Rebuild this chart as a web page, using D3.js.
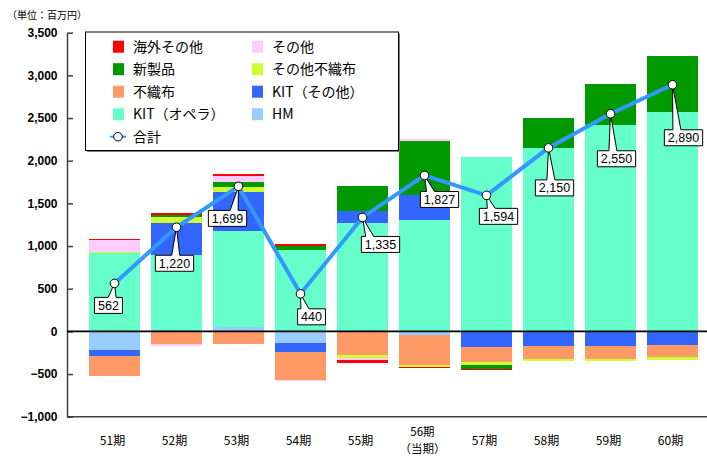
<!DOCTYPE html>
<html>
<head>
<meta charset="utf-8">
<script src="https://cdn.jsdelivr.net/npm/d3@7"></script>
<style>
  html, body { margin: 0; padding: 0; background: #fff; }
  svg { display: block; }
</style>
</head>
<body>
<svg id="chart" width="707" height="456"></svg>
<script>
// Fiscal periods (56期 is the current period)
const categories = ["51期", "52期", "53期", "54期", "55期", "56期", "57期", "58期", "59期", "60期"];
const categoryNotes = ["", "", "", "", "", "（当期）", "", "", "", ""];

// Segment results per period, 百万円
const hm          = [-222,   20,   52, -133,   12,  -47,     0,     0,     0,     0];
const kitOpera    = [ 915,  871, 1122,  957, 1255, 1300,  2044,  2149,  2421,  2566];
const kitOther    = [ -62,  380,  454, -105,  141,  293,  -180,  -176,  -168,  -164];
const nonwoven    = [-242, -144, -144, -331, -281, -352,  -176,  -144,  -152,  -141];
const otherNonwov = [  20,   70,   59,    0,  -35,  -15,   -35,   -31,   -31,   -27];
const newProducts = [   0,   23,   59,   47,  301,  637,   -47,   352,   480,   656];
const others      = [ 133,  -23,   74,  -15,  -23,   23,     0,     0,     0,     0];
const overseas    = [  20,   23,   23,   20,  -35,  -12,   -12,     0,     0,     0];

// Period totals (合計)
const totals = [562, 1220, 1699, 440, 1335, 1827, 1594, 2150, 2550, 2890];

// Y axis ticks
const yTicks = [-1000, -500, 0, 500, 1000, 1500, 2000, 2500, 3000, 3500];

// Series in stacking order (first = nearest to zero)
const seriesDefs = [
  { key: "HM",           name: "HM",           values: hm,          color: "#99CCFF" },
  { key: "kitOpera",     name: "KIT（オペラ）", values: kitOpera,    color: "#66FFCC" },
  { key: "kitOther",     name: "KIT（その他）", values: kitOther,    color: "#3366FF" },
  { key: "nonwoven",     name: "不織布",        values: nonwoven,    color: "#FF9966" },
  { key: "otherNonwov",  name: "その他不織布",  values: otherNonwov, color: "#CCFF33" },
  { key: "newProducts",  name: "新製品",        values: newProducts, color: "#009900" },
  { key: "others",       name: "その他",        values: others,      color: "#FFCCFF" },
  { key: "overseas",     name: "海外その他",    values: overseas,    color: "#FF0000" }
];

const rows = categories.map((c, i) => {
  const r = { cat: c };
  seriesDefs.forEach(s => { r[s.key] = s.values[i]; });
  return r;
});

const svg = d3.select("#chart");
const axisX = 67;
const plotRight = 707;

const x = d3.scaleBand()
  .domain(categories)
  .range([83.5, 703.5])
  .paddingInner(11 / 62)
  .paddingOuter(11 / 124);

const y = d3.scaleLinear().domain([-1000, 3500]).range([416.7, 32.7]);

const stack = d3.stack()
  .keys(seriesDefs.map(s => s.key))
  .offset(d3.stackOffsetDiverging);
const stacked = stack(rows);

// Bars
const gBars = svg.append("g");
stacked.forEach((layer, li) => {
  gBars.append("g")
    .attr("fill", seriesDefs[li].color)
    .selectAll("rect")
    .data(layer)
    .join("rect")
    .attr("x", d => x(d.data.cat))
    .attr("width", x.bandwidth())
    .attr("y", d => y(Math.max(d[0], d[1])))
    .attr("height", d => Math.abs(y(d[0]) - y(d[1])))
    .attr("shape-rendering", "crispEdges");
});

// Y axis
const yAxis = d3.axisLeft(y)
  .tickValues(yTicks)
  .tickFormat(d3.format(","))
  .tickSizeInner(-6)
  .tickSizeOuter(0)
  .tickPadding(9.5);

const gy = svg.append("g").attr("transform", `translate(${axisX},0)`).call(yAxis);
gy.select(".domain").attr("stroke", "#404040").attr("stroke-width", 1.5);
gy.selectAll(".tick line").attr("stroke", "#404040").attr("stroke-width", 1.5);
gy.selectAll(".tick text")
  .attr("font-family", "'Liberation Sans', Arial, sans-serif")
  .attr("font-weight", "bold")
  .attr("font-size", 12)
  .attr("fill", "#000");

// Bottom frame line
svg.append("line")
  .attr("x1", axisX).attr("x2", plotRight)
  .attr("y1", y(-1000)).attr("y2", y(-1000))
  .attr("stroke", "#404040").attr("stroke-width", 1.5);

// Zero line
svg.append("line")
  .attr("x1", axisX).attr("x2", plotRight)
  .attr("y1", y(0)).attr("y2", y(0))
  .attr("stroke", "#000").attr("stroke-width", 1.6);

// Category labels
const gx = svg.append("g")
  .attr("font-family", "'Noto Sans CJK JP', sans-serif")
  .attr("font-size", 12)
  .attr("text-anchor", "middle")
  .attr("fill", "#000");
categories.forEach((c, i) => {
  const cx = x(c) + x.bandwidth() / 2 - 2;
  if (categoryNotes[i]) {
    gx.append("text").attr("x", cx).attr("y", 436).attr("font-size", 11.5).text(c);
    gx.append("text").attr("x", cx).attr("y", 453).attr("font-size", 11.5).text(categoryNotes[i]);
  } else {
    gx.append("text").attr("x", cx).attr("y", 445).text(c);
  }
});

// Unit caption
svg.append("text")
  .attr("x", 7).attr("y", 19)
  .attr("font-family", "'Noto Sans CJK JP', sans-serif")
  .attr("font-size", 10)
  .attr("fill", "#000")
  .text("（単位：百万円）");

// Total line
const px = i => x(categories[i]) + x.bandwidth() / 2;
const line = d3.line().x((d, i) => px(i)).y(d => y(d));
svg.append("path")
  .datum(totals)
  .attr("fill", "none")
  .attr("stroke", "#3399FF")
  .attr("stroke-width", 4)
  .attr("stroke-linejoin", "round")
  .attr("d", line);

// Callout label offsets from each point (box centre)
const calloutOffsets = [[-6, 22], [-2, 36], [-11, 32], [11, 23], [18, 27], [15, 24], [12, 21], [6, 40], [6, 45], [11, 53]];

const gCall = svg.append("g");
const fmt = d3.format(",");
totals.forEach((v, i) => {
  const ptx = px(i), pty = y(v);
  const cx = ptx + calloutOffsets[i][0];
  const cy = pty + calloutOffsets[i][1];
  const txt = fmt(v);
  const tmp = gCall.append("text")
    .attr("font-family", "'Liberation Sans', Arial, sans-serif")
    .attr("font-size", 12.5)
    .text(txt);
  const w = tmp.node().getComputedTextLength() + 7;
  tmp.remove();
  const h = 16;
  const l = cx - w / 2, r = cx + w / 2, t = cy - h / 2, b = cy + h / 2;
  let bc = cx + (ptx - cx) * 0.6;
  bc = Math.max(l + 5, Math.min(r - 5, bc));
  const path = d3.path();
  path.moveTo(l, t);
  path.lineTo(bc - 4, t);
  path.lineTo(ptx, pty);
  path.lineTo(bc + 4, t);
  path.lineTo(r, t);
  path.lineTo(r, b);
  path.lineTo(l, b);
  path.closePath();
  gCall.append("path")
    .attr("d", path.toString())
    .attr("fill", "#fff")
    .attr("stroke", "#000")
    .attr("stroke-width", 1);
  gCall.append("text")
    .attr("x", cx).attr("y", cy + 4.5)
    .attr("text-anchor", "middle")
    .attr("font-family", "'Liberation Sans', Arial, sans-serif")
    .attr("font-size", 12.5)
    .attr("fill", "#000")
    .text(txt);
});

// Point markers
svg.append("g")
  .selectAll("circle")
  .data(totals)
  .join("circle")
  .attr("cx", (d, i) => px(i))
  .attr("cy", d => y(d))
  .attr("r", 4.3)
  .attr("fill", "#fff")
  .attr("stroke", "#000")
  .attr("stroke-width", 1);

// Legend
const legend = svg.append("g");
legend.append("rect")
  .attr("x", 87).attr("y", 33.5).attr("width", 313).attr("height", 118.5)
  .attr("fill", "#808080");
legend.append("rect")
  .attr("x", 85.5).attr("y", 32).attr("width", 313).attr("height", 118.5)
  .attr("fill", "#fff").attr("stroke", "#000").attr("stroke-width", 1);

const legendOrder = ["overseas", "others", "newProducts", "otherNonwov", "nonwoven", "kitOther", "kitOpera", "HM"];
legendOrder.forEach((k, j) => {
  const s = seriesDefs.find(d => d.key === k);
  const col = j % 2, row = Math.floor(j / 2);
  const sx = col === 0 ? 113 : 252;
  const cy = 46.7 + row * 22.5;
  legend.append("rect")
    .attr("x", sx).attr("y", cy - 6).attr("width", 11).attr("height", 12)
    .attr("fill", s.color);
  legend.append("text")
    .attr("x", sx + 20).attr("y", cy + 5)
    .attr("font-family", "'Noto Sans CJK JP', sans-serif")
    .attr("font-size", 14)
    .attr("fill", "#000")
    .text(s.name);
});
// 合計 entry
const ly = 46.7 + 4 * 22.5;
legend.append("line")
  .attr("x1", 110).attr("x2", 126).attr("y1", ly).attr("y2", ly)
  .attr("stroke", "#3399FF").attr("stroke-width", 2);
legend.append("circle")
  .attr("cx", 118).attr("cy", ly).attr("r", 4.3)
  .attr("fill", "#fff").attr("stroke", "#000").attr("stroke-width", 1);
legend.append("text")
  .attr("x", 133).attr("y", ly + 5)
  .attr("font-family", "'Noto Sans CJK JP', sans-serif")
  .attr("font-size", 14)
  .attr("fill", "#000")
  .text("合計");
</script>
</body>
</html>
